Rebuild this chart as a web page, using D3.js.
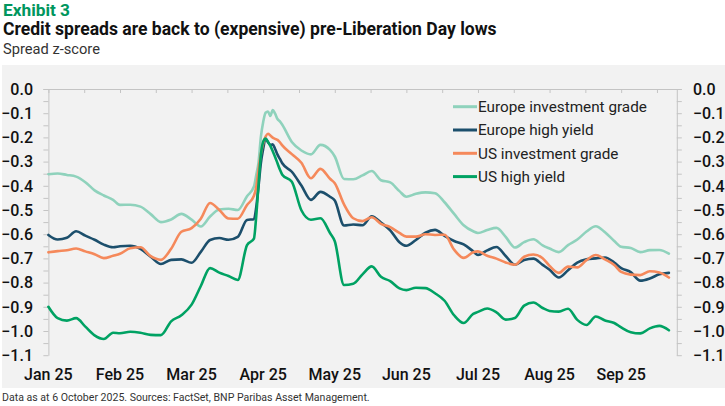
<!DOCTYPE html>
<html><head><meta charset="utf-8">
<script src="https://cdn.jsdelivr.net/npm/d3@7/dist/d3.min.js"></script>
<style>
html,body{margin:0;padding:0;background:#fff;}
svg{display:block;}
text{font-family:Roboto,"Open Sans",sans-serif;}
</style></head><body>
<svg id="chart" width="725" height="406"></svg>
<script>
// ---------------- DATA ----------------
const dates = [
 "2025-01-01","2025-01-05","2025-01-09","2025-01-13","2025-01-17","2025-01-21","2025-01-25","2025-01-29",
 "2025-02-01","2025-02-05","2025-02-09","2025-02-13","2025-02-17","2025-02-21","2025-02-25",
 "2025-03-01","2025-03-05","2025-03-09","2025-03-13","2025-03-17","2025-03-21","2025-03-25","2025-03-28","2025-03-29","2025-03-30","2025-03-31",
 "2025-04-01","2025-04-02","2025-04-03","2025-04-04","2025-04-05","2025-04-06","2025-04-07","2025-04-08","2025-04-09","2025-04-13","2025-04-17","2025-04-21","2025-04-25","2025-04-29",
 "2025-05-01","2025-05-05","2025-05-09","2025-05-13","2025-05-17","2025-05-21","2025-05-25","2025-05-29",
 "2025-06-01","2025-06-05","2025-06-09","2025-06-13","2025-06-17","2025-06-21","2025-06-25","2025-06-29",
 "2025-07-01","2025-07-05","2025-07-09","2025-07-13","2025-07-17","2025-07-21","2025-07-25","2025-07-29",
 "2025-08-01","2025-08-05","2025-08-09","2025-08-13","2025-08-17","2025-08-21","2025-08-25","2025-08-29",
 "2025-09-01","2025-09-05","2025-09-09","2025-09-13","2025-09-17","2025-09-21"
];
const europeIG = [
 -0.352,-0.349,-0.355,-0.362,-0.385,-0.419,-0.440,-0.458,
 -0.479,-0.478,-0.486,-0.517,-0.550,-0.539,-0.516,
 -0.540,-0.568,-0.527,-0.498,-0.495,-0.500,-0.443,-0.403,-0.355,-0.302,-0.198,
 -0.136,-0.098,-0.093,-0.111,-0.087,-0.102,-0.124,-0.134,-0.148,-0.219,-0.254,-0.270,-0.231,-0.252,
 -0.279,-0.372,-0.373,-0.357,-0.339,-0.377,-0.386,-0.422,
 -0.445,-0.433,-0.427,-0.431,-0.468,-0.516,-0.563,-0.588,
 -0.595,-0.583,-0.574,-0.611,-0.655,-0.633,-0.621,-0.646,
 -0.659,-0.674,-0.645,-0.622,-0.589,-0.567,-0.592,-0.628,
 -0.652,-0.657,-0.674,-0.666,-0.665,-0.680
];
const europeHY = [
 -0.603,-0.622,-0.615,-0.588,-0.606,-0.623,-0.643,-0.654,
 -0.650,-0.648,-0.661,-0.693,-0.723,-0.706,-0.704,
 -0.718,-0.673,-0.624,-0.616,-0.623,-0.611,-0.541,-0.538,-0.488,-0.401,-0.306,
 -0.247,-0.205,-0.219,-0.231,-0.229,-0.248,-0.271,-0.289,-0.307,-0.342,-0.399,-0.458,-0.425,-0.445,
 -0.461,-0.564,-0.560,-0.563,-0.526,-0.552,-0.584,-0.633,
 -0.648,-0.624,-0.594,-0.582,-0.607,-0.628,-0.642,-0.671,
 -0.686,-0.667,-0.653,-0.690,-0.726,-0.707,-0.701,-0.727,
 -0.747,-0.779,-0.749,-0.717,-0.704,-0.700,-0.696,-0.717,
 -0.740,-0.757,-0.792,-0.783,-0.766,-0.760
];
const usIG = [
 -0.675,-0.670,-0.666,-0.659,-0.671,-0.683,-0.699,-0.689,
 -0.681,-0.658,-0.654,-0.691,-0.706,-0.660,-0.590,
 -0.575,-0.536,-0.471,-0.500,-0.535,-0.536,-0.479,-0.441,-0.405,-0.331,-0.269,
 -0.225,-0.197,-0.185,-0.192,-0.201,-0.206,-0.210,-0.220,-0.233,-0.269,-0.305,-0.369,-0.330,-0.371,
 -0.389,-0.477,-0.534,-0.546,-0.530,-0.557,-0.571,-0.595,
 -0.610,-0.610,-0.600,-0.603,-0.602,-0.664,-0.698,-0.675,
 -0.671,-0.689,-0.701,-0.717,-0.726,-0.693,-0.684,-0.699,
 -0.731,-0.760,-0.734,-0.737,-0.707,-0.686,-0.704,-0.727,
 -0.756,-0.767,-0.769,-0.753,-0.758,-0.779
];
const usHY = [
 -0.900,-0.947,-0.957,-0.947,-0.982,-1.018,-1.033,-1.007,
 -1.009,-1.003,-1.007,-1.016,-1.017,-0.960,-0.935,
 -0.891,-0.814,-0.740,-0.759,-0.773,-0.789,-0.645,-0.618,-0.524,-0.392,-0.273,
 -0.218,-0.205,-0.219,-0.235,-0.257,-0.281,-0.307,-0.333,-0.354,-0.383,-0.501,-0.540,-0.534,-0.595,
 -0.629,-0.810,-0.805,-0.766,-0.733,-0.776,-0.794,-0.824,
 -0.831,-0.821,-0.823,-0.844,-0.875,-0.935,-0.967,-0.929,
 -0.921,-0.907,-0.923,-0.953,-0.946,-0.895,-0.882,-0.905,
 -0.917,-0.920,-0.908,-0.954,-0.975,-0.940,-0.957,-0.967,
 -0.985,-1.005,-1.010,-0.989,-0.979,-0.997
];
const seriesNames = ["Europe investment grade","Europe high yield","US investment grade","US high yield"];
const seriesColors = ["#8fd2bc","#1c4f6c","#f5895b","#00a263"];
const monthLabels = ["Jan 25","Feb 25","Mar 25","Apr 25","May 25","Jun 25","Jul 25","Aug 25","Sep 25"];
const yTicks = [0,-0.1,-0.2,-0.3,-0.4,-0.5,-0.6,-0.7,-0.8,-0.9,-1.0,-1.1];
const titleText = "Credit spreads are back to (expensive) pre-Liberation Day lows";
const exhibitText = "Exhibit 3";
const subtitleText = "Spread z-score";
const footerText = "Data as at 6 October 2025. Sources: FactSet, BNP Paribas Asset Management.";

// ---------------- CHART ----------------
const svg = d3.select("#chart");
const seriesValues = [europeIG, europeHY, usIG, usHY];

// month-position (equal spacing per month, as in the original category-style axis)
const parse = d3.timeParse("%Y-%m-%d");
function monthPos(s){
  const d = parse(s);
  const dim = new Date(d.getFullYear(), d.getMonth()+1, 0).getDate();
  return d.getMonth() + (d.getDate()-1)/dim;
}
const xs = dates.map(monthPos);

const x = d3.scaleLinear().domain([0, 8.777]).range([48.4, 676.8]);
const y = d3.scaleLinear().domain([0, -1.1]).range([89, 355.2]);

function fit(sel, w){
  const n = sel.node(); const cur = parseFloat(sel.attr("font-size"));
  const len = n.getComputedTextLength();
  sel.attr("font-size", (cur*w/len).toFixed(2));
}

// panel
svg.append("rect").attr("x",2).attr("y",65).attr("width",723).attr("height",323).attr("fill","#f2f2f2");

// headings
fit(svg.append("text").attr("x",3).attr("y",15.5).attr("font-size",16).attr("font-weight",700)
  .attr("fill","#00965e").text(exhibitText), 67);
fit(svg.append("text").attr("x",3).attr("y",35).attr("font-size",17).attr("font-weight",700)
  .attr("fill","#111").text(titleText), 494);
fit(svg.append("text").attr("x",3).attr("y",54).attr("font-size",14).attr("font-weight",400)
  .attr("fill","#333").text(subtitleText), 97);
fit(svg.append("text").attr("x",2).attr("y",401).attr("font-size",10.5).attr("font-weight",400)
  .attr("fill","#333").text(footerText), 368);

const axisColor = "#c4c4c4";
const minorVals = d3.range(0, 23).map(i => -i*0.05);

// left axis
const gl = svg.append("g").attr("transform","translate(48.4,0)")
  .call(d3.axisLeft(y).tickValues(minorVals).tickSize(5).tickSizeOuter(0).tickFormat(()=>""));
// right axis
const gr = svg.append("g").attr("transform","translate(676.8,0)")
  .call(d3.axisRight(y).tickValues(minorVals).tickSize(5).tickSizeOuter(0).tickFormat(()=>""));
// top axis with half-month ticks pointing down
const gt = svg.append("g").attr("transform","translate(0,89)")
  .call(d3.axisBottom(x).tickValues(d3.range(0,18).map(i=>i*0.5)).tickSize(4).tickSizeOuter(0).tickFormat(()=>""));
[gl,gr,gt].forEach(g=>{
  g.selectAll("path.domain").attr("stroke",axisColor).attr("stroke-width",1);
  g.selectAll(".tick line").attr("stroke",axisColor).attr("stroke-width",1);
});
svg.append("line").attr("x1",43.4).attr("x2",681.8).attr("y1",89.5).attr("y2",89.5)
  .attr("stroke",axisColor).attr("stroke-width",1);

// y labels
yTicks.forEach(v=>{
  const lab = v===0 ? "0.0" : d3.format(".1f")(v);
  svg.append("text").attr("x",33).attr("y",y(v)).attr("dy","0.36em").attr("text-anchor","end")
    .attr("font-size",16).attr("font-weight",500).attr("fill","#111").text(lab);
  svg.append("text").attr("x",693).attr("y",y(v)).attr("dy","0.36em").attr("text-anchor","start")
    .attr("font-size",16).attr("font-weight",500).attr("fill","#111").text(lab);
});

// x labels
monthLabels.forEach((m,i)=>{
  svg.append("text").attr("x",x(i)).attr("y",380).attr("text-anchor","middle")
    .attr("font-size",16).attr("font-weight",500).attr("fill","#111").text(m);
});

// lines
const line = d3.line().x((d,i)=>x(xs[i])).y(d=>y(d)).curve(d3.curveMonotoneX);
seriesValues.forEach((vals,k)=>{
  svg.append("path").datum(vals).attr("d",line).attr("fill","none")
    .attr("stroke",seriesColors[k]).attr("stroke-width",2.6)
    .attr("stroke-linejoin","round").attr("stroke-linecap","round");
});

// legend
seriesNames.forEach((n,k)=>{
  const ly = 106.7 + k*23.3;
  svg.append("line").attr("x1",453).attr("x2",477).attr("y1",ly).attr("y2",ly)
    .attr("stroke",seriesColors[k]).attr("stroke-width",3);
  const t = svg.append("text").attr("x",478).attr("y",ly).attr("dy","0.35em")
    .attr("font-size",14.5).attr("fill","#222").text(n);
  if(k===0) fit(t,169);
  if(k>0) t.attr("font-size", svg.select("text.legend0").empty() ? null : null);
  t.attr("class","legend"+k);
});
const lfs = svg.select("text.legend0").attr("font-size");
svg.selectAll("text.legend1,text.legend2,text.legend3").attr("font-size",lfs);
</script>
</body></html>
